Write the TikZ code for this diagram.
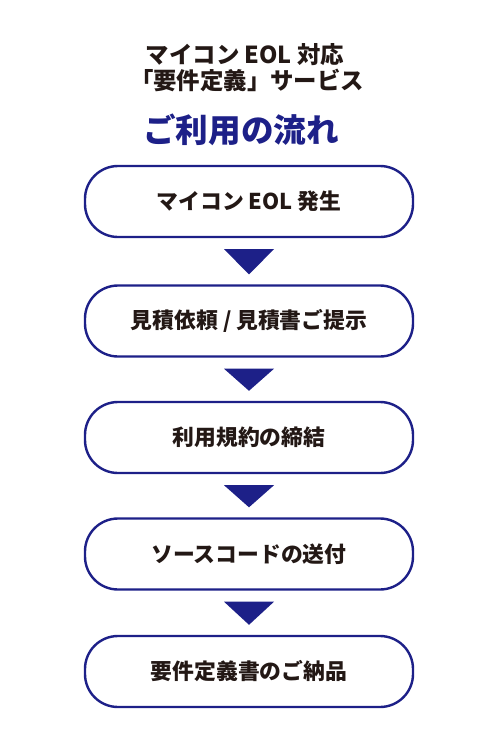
\documentclass[tikz,border=0pt]{standalone}
\usepackage{fontspec}
\setmainfont{Noto Sans CJK JP}
\usetikzlibrary{calc}
\definecolor{navy}{HTML}{1D2088}
\definecolor{ink}{HTML}{231815}
\begin{document}
\begin{tikzpicture}[x=1pt,y=-1pt,
  stepbox/.style={draw=navy,line width=2.4pt,rounded corners=33pt,minimum width=328pt,minimum height=71pt,fill=white,text=ink,font=\fontsize{21.8}{24}\selectfont\bfseries},
  titletext/.style={text=ink,font=\fontsize{23.4}{26}\selectfont\bfseries,align=center},
  flowarrow/.style={fill=navy}]
\useasboundingbox (0,0) rectangle (497,750);
\node[titletext] (t1) at (245,55) {マイコン EOL 対応};
\node[titletext] (t2) at (247,80.5) {「要件定義」サービス};
\node[text=navy,font=\fontsize{32.6}{35}\selectfont\bfseries] (t3) at (241,130) {ご利用の流れ};
\node[stepbox] (s1) at (249,201.5) {マイコン EOL 発生};
\node[stepbox] (s2) at (249,321) {見積依頼 / 見積書ご提示};
\node[stepbox] (s3) at (249,437.5) {利用規約の締結};
\node[stepbox] (s4) at (249,554) {ソースコードの送付};
\node[stepbox] (s5) at (249,671.5) {要件定義書のご納品};
\foreach \a/\b in {s1/s2,s2/s3,s3/s4,s4/s5}{
  \fill[flowarrow] ($(\a.south)+(-25,11)$) -- ($(\a.south)+(25,11)$) -- ($(\b.north)+(0,-10)$) -- cycle;
}
\end{tikzpicture}
\end{document}
